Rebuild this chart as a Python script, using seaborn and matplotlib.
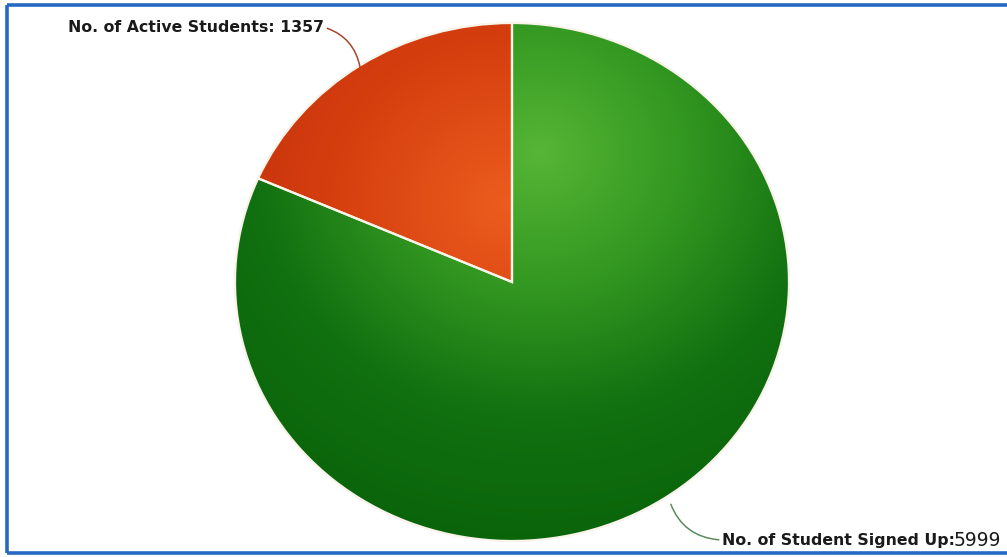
import numpy as np
import matplotlib
matplotlib.use("Agg")
import matplotlib.pyplot as plt
from matplotlib.colors import LinearSegmentedColormap
from matplotlib.lines import Line2D
import seaborn as sns

# Student counts
categories = ["No. of Active Students", "No. of Student Signed Up"]
values = [1357, 5999]

sns.set_theme(style="white")
plt.rcParams["font.family"] = ["DejaVu Sans"]

W, H = 1007, 557
fig = plt.figure(figsize=(W / 100, H / 100), dpi=100)
fig.patch.set_facecolor("white")
ax = fig.add_axes([0, 0, 1, 1])

wedges, _ = ax.pie(values, startangle=90, counterclock=True,
                   wedgeprops=dict(linewidth=0, edgecolor="none"))

# Pie is slightly wider than tall: scale axes independently
cx, cy = 512, 282
rx, ry = 277, 259


def fit_axes():
    ax.set_aspect("auto")
    ax.set_xlim(-cx / rx, (W - cx) / rx)
    ax.set_ylim(-(H - cy) / ry, cy / ry)
    ax.axis("off")


fit_axes()

# Radial shading for each slice
n = 400
gx, gy = np.meshgrid(np.linspace(-1.05, 1.05, n), np.linspace(-1.05, 1.05, n))
shades = [
    ((-0.02, 0.30), 1.2, ["#ec5c1e", "#d6400f", "#c22c0c"]),
    ((0.10, 0.50), 1.55, ["#56b535", "#339821", "#117010", "#0a640a"]),
]
for wedge, ((sx, sy), reach, cols) in zip(wedges, shades):
    d = np.clip(np.hypot(gx - sx, gy - sy) / reach, 0, 1)
    cmap = LinearSegmentedColormap.from_list("shade", cols)
    im = ax.imshow(d, cmap=cmap, extent=(-1.05, 1.05, -1.05, 1.05),
                   origin="lower", vmin=0, vmax=1, aspect="auto",
                   interpolation="bilinear", zorder=2)
    im.set_clip_path(wedge)
    wedge.set_facecolor("none")

# White separators between slices
edges, _ = ax.pie(values, startangle=90, counterclock=True,
                  wedgeprops=dict(linewidth=1.6, edgecolor="#f8f4ea",
                                  facecolor="none"))
for e in edges:
    e.set_zorder(3)
fit_axes()


def px(x, y):
    return ((x - cx) / rx, (cy - y) / ry)


label_font = dict(fontsize=11.3, fontweight="bold", color="#1a1a1a")

ax.annotate(f"{categories[0]}: {values[0]}", xy=px(360, 67), xytext=px(324, 28),
            ha="right", va="center", zorder=5, **label_font,
            arrowprops=dict(arrowstyle="-", color="#a8452e", lw=1.1,
                            shrinkA=0, shrinkB=0, relpos=(1.0, 0.55),
                            connectionstyle="arc3,rad=-0.3"))

t = ax.annotate(f"{categories[1]}:", xy=px(669, 499), xytext=px(722, 540),
                ha="left", va="center", zorder=5, **label_font,
                arrowprops=dict(arrowstyle="-", color="#5b8a5b", lw=1.1,
                                shrinkA=0, shrinkB=4, relpos=(0.0, 0.5),
                                connectionstyle="arc3,rad=-0.35"))
fig.canvas.draw()
bb = t.get_window_extent()
fig.text((bb.x1 - 1) / W, (H - 540) / H, f"{values[1]}", ha="left",
         va="center", fontsize=13.5, color="#1a1a1a")

# Blue frame
frame = dict(color="#2569c2", lw=2.6, solid_capstyle="butt")
fig.add_artist(Line2D([7 / W, 1], [1 - 5 / H, 1 - 5 / H], **frame))
fig.add_artist(Line2D([7 / W, 7 / W], [1 - 5 / H, 1 - 553 / H], **frame))
fig.add_artist(Line2D([7 / W, 1], [1 - 553 / H, 1 - 553 / H], **frame))

fig.savefig("out.png", dpi=100)
